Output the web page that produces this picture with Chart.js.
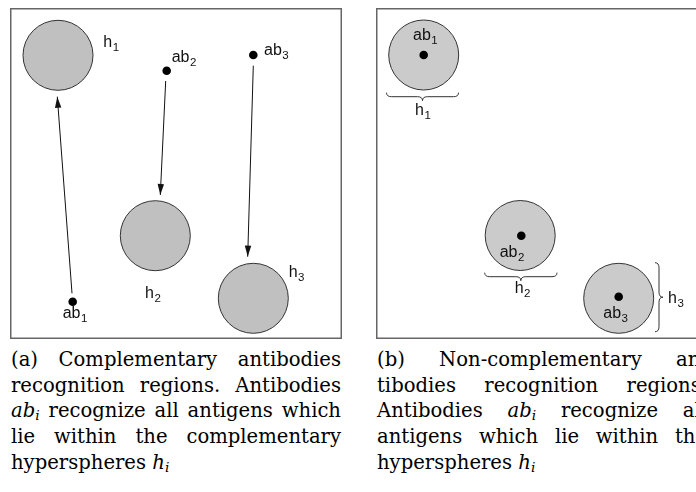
<!DOCTYPE html>
<html>
<head>
<meta charset="utf-8">
<script src="https://cdn.jsdelivr.net/npm/chart.js@4"></script>
<style>
  html, body { margin: 0; padding: 0; width: 696px; height: 492px; overflow: hidden; background: #fff; }
  canvas { position: absolute; top: 8px; }
  #panelA { left: 10px; }
  #panelB { left: 376px; }
  .cap { position: absolute; top: 347px; width: 330px; font: 19.6px "DejaVu Serif", serif; line-height: 25.7px; color: #000; }
  .j { text-align: justify; text-align-last: justify; }
  .cap sub { font-size: 0.7em; vertical-align: -0.25em; line-height: 0; }
</style>
</head>
<body>
<canvas id="panelA" width="332" height="331"></canvas>
<canvas id="panelB" width="332" height="331"></canvas>

<div class="cap" style="left:11px">
  <div class="j">(a) Complementary antibodies</div>
  <div class="j">recognition regions. Antibodies</div>
  <div class="j"><i>ab<sub>i</sub></i> recognize all antigens which</div>
  <div class="j">lie within the complementary</div>
  <div><span>hyperspheres <i>h<sub>i</sub></i></span></div>
</div>
<div class="cap" style="left:377px">
  <div class="j">(b) Non-complementary an-</div>
  <div class="j">tibodies recognition regions.</div>
  <div class="j">Antibodies <i>ab<sub>i</sub></i> recognize all</div>
  <div class="j">antigens which lie within the</div>
  <div><span>hyperspheres <i>h<sub>i</sub></i></span></div>
</div>

<script>
// feature space is 332 x 331 units, y grows downward
const SPACE_W = 332;
const SPACE_H = 331;
const ids = ['1', '2', '3'];

// (a) complementary: hyperspheres, antibodies and where each one points
const aHyperX = [48, 145.3, 243.3];
const aHyperY = [47.3, 227.7, 290.3];
const aHyperR = [35, 35, 35];
const aAbX = [62.7, 156.7, 243.3];
const aAbY = [293.7, 62.7, 47];
const aArrowFromX = [62, 155.7, 243.3];
const aArrowFromY = [285.3, 73, 57.7];
const aArrowToX = [47.3, 150.3, 237.7];
const aArrowToY = [88.7, 187, 248.7];
const aHLabelX = [93.3, 135, 278.7];
const aHLabelY = [38.7, 289.7, 268.7];
const aAbLabelX = [52.7, 161.7, 254];
const aAbLabelY = [310, 53.7, 47];

// (b) non-complementary: antibody sits inside its own hypersphere
const bHyperX = [47.7, 144.2, 242.7];
const bHyperY = [47, 227.5, 290.3];
const bHyperR = [35, 35, 35];
const bAbX = [47.7, 145.3, 242.7];
const bAbY = [47, 227.7, 288.7];
const bHLabelX = [39, 138.7, 292];
const bHLabelY = [107, 285.3, 295.3];
const bAbLabelX = [37, 123.7, 227.3];
const bAbLabelY = [32, 248.7, 310];
const bBraceFromX = [10.5, 108.7, 279];
const bBraceFromY = [84.7, 264.7, 323.7];
const bBraceToX = [82.5, 181, 279];
const bBraceToY = [84.7, 264.7, 254.7];

const zip = (xs, ys) => xs.map((x, i) => ({ x, y: ys[i] }));

function drawBrace(ctx, x1, y1, x2, y2, depth) {
  const len = Math.hypot(x2 - x1, y2 - y1);
  const ang = Math.atan2(y2 - y1, x2 - x1);
  const h = depth / 2, q = 5, m = len / 2;
  ctx.save();
  ctx.translate(x1, y1);
  ctx.rotate(ang);
  ctx.beginPath();
  ctx.moveTo(0, 0);
  ctx.quadraticCurveTo(0, h, q, h);
  ctx.lineTo(m - q, h);
  ctx.quadraticCurveTo(m, h, m, depth);
  ctx.quadraticCurveTo(m, h, m + q, h);
  ctx.lineTo(len - q, h);
  ctx.quadraticCurveTo(len, h, len, 0);
  ctx.strokeStyle = '#333';
  ctx.lineWidth = 1;
  ctx.stroke();
  ctx.restore();
}

function drawSubLabel(ctx, x, y, main, sub) {
  ctx.fillStyle = '#111';
  ctx.textBaseline = 'alphabetic';
  ctx.font = '16px "Liberation Sans", Arial, sans-serif';
  ctx.fillText(main, x, y);
  const w = ctx.measureText(main).width;
  ctx.font = '11.5px "Liberation Sans", Arial, sans-serif';
  ctx.fillText(sub, x + w + 0.5, y + 4);
}

const diagramPlugin = {
  id: 'diagram',
  afterDatasetsDraw(chart, args, opts) {
    const { ctx, chartArea } = chart;
    const sx = chart.scales.x, sy = chart.scales.y;

    // arrow heads at the end of each arrow line
    chart.data.datasets.forEach((ds, i) => {
      if (!ds.arrow) return;
      const pts = chart.getDatasetMeta(i).data;
      const a = pts[0], b = pts[pts.length - 1];
      const ang = Math.atan2(b.y - a.y, b.x - a.x);
      ctx.save();
      ctx.translate(b.x, b.y);
      ctx.rotate(ang);
      ctx.beginPath();
      ctx.moveTo(0, 0);
      ctx.lineTo(-11, -3.2);
      ctx.lineTo(-11, 3.2);
      ctx.closePath();
      ctx.fillStyle = '#111';
      ctx.fill();
      ctx.restore();
    });

    (opts.braces || []).forEach(b => {
      drawBrace(ctx, sx.getPixelForValue(b.x1), sy.getPixelForValue(b.y1),
        sx.getPixelForValue(b.x2), sy.getPixelForValue(b.y2), 8);
    });

    (opts.labels || []).forEach(l => {
      drawSubLabel(ctx, sx.getPixelForValue(l.x), sy.getPixelForValue(l.y), l.main, l.sub);
    });

    ctx.save();
    ctx.strokeStyle = '#666';
    ctx.lineWidth = 1.5;
    ctx.strokeRect(chartArea.left + 0.75, chartArea.top + 0.75,
      chartArea.right - chartArea.left - 1.5, chartArea.bottom - chartArea.top - 1.5);
    ctx.restore();
  }
};

function baseOptions(labels, braces) {
  return {
    responsive: false,
    animation: false,
    events: [],
    layout: { padding: 0, autoPadding: false },
    scales: {
      x: { type: 'linear', min: 0, max: SPACE_W, display: false },
      y: { type: 'linear', min: 0, max: SPACE_H, reverse: true, display: false }
    },
    plugins: {
      legend: { display: false },
      tooltip: { enabled: false },
      diagram: { labels, braces }
    }
  };
}

function hyperDataset(xs, ys, rs, fill) {
  return {
    type: 'bubble',
    data: xs.map((x, i) => ({ x, y: ys[i], r: rs[i] })),
    backgroundColor: fill,
    borderColor: '#333',
    borderWidth: 1,
    order: 3,
    clip: false
  };
}

function dotDataset(xs, ys) {
  return {
    type: 'scatter',
    data: zip(xs, ys),
    pointRadius: 4.3,
    backgroundColor: '#000',
    borderColor: '#000',
    borderWidth: 0,
    order: 1
  };
}

// panel (a)
const aArrows = ids.map((_, i) => ({
  type: 'line',
  arrow: true,
  data: [{ x: aArrowFromX[i], y: aArrowFromY[i] }, { x: aArrowToX[i], y: aArrowToY[i] }],
  borderColor: '#111',
  borderWidth: 1,
  pointRadius: 0,
  fill: false,
  order: 2
}));
const aLabels = ids.map((id, i) => ({ x: aHLabelX[i], y: aHLabelY[i], main: 'h', sub: id }))
  .concat(ids.map((id, i) => ({ x: aAbLabelX[i], y: aAbLabelY[i], main: 'ab', sub: id })));

new Chart(document.getElementById('panelA').getContext('2d'), {
  type: 'scatter',
  data: {
    datasets: [hyperDataset(aHyperX, aHyperY, aHyperR, '#c0c0c0'), ...aArrows, dotDataset(aAbX, aAbY)]
  },
  options: baseOptions(aLabels, []),
  plugins: [diagramPlugin]
});

// panel (b)
const bLabels = ids.map((id, i) => ({ x: bHLabelX[i], y: bHLabelY[i], main: 'h', sub: id }))
  .concat(ids.map((id, i) => ({ x: bAbLabelX[i], y: bAbLabelY[i], main: 'ab', sub: id })));
const bBraces = ids.map((_, i) => ({ x1: bBraceFromX[i], y1: bBraceFromY[i], x2: bBraceToX[i], y2: bBraceToY[i] }));

new Chart(document.getElementById('panelB').getContext('2d'), {
  type: 'scatter',
  data: {
    datasets: [hyperDataset(bHyperX, bHyperY, bHyperR, '#cbcbcb'), dotDataset(bAbX, bAbY)]
  },
  options: baseOptions(bLabels, bBraces),
  plugins: [diagramPlugin]
});
</script>
</body>
</html>
